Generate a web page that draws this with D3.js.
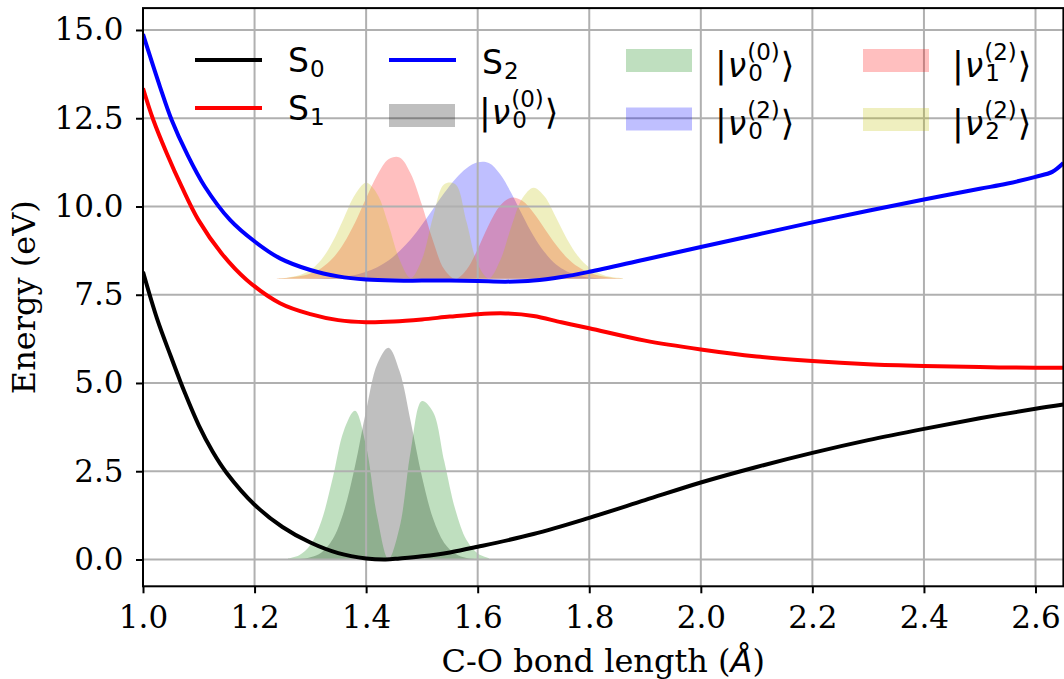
<!DOCTYPE html>
<html>
<head>
<meta charset="utf-8">
<script src="https://cdn.jsdelivr.net/npm/d3@7"></script>
<style>
  body { margin: 0; background: #fff; }
  svg { display: block; }
</style>
</head>
<body>
<svg id="chart" width="1064" height="679"></svg>
<script>
// potential energy curves (bond length in Å, energy in eV)
const s0X = [1.0, 1.025, 1.05, 1.075, 1.1, 1.125, 1.15, 1.2, 1.25, 1.3, 1.35, 1.4, 1.435, 1.46, 1.5, 1.55, 1.6, 1.7, 1.8, 1.9, 2.0, 2.1, 2.2, 2.3, 2.4, 2.5, 2.6, 2.65];
const s0E = [8.15, 6.83, 5.75, 4.72, 3.8, 3.05, 2.45, 1.55, 0.92, 0.48, 0.18, 0.03, 0.0, 0.03, 0.09, 0.2, 0.36, 0.72, 1.18, 1.68, 2.18, 2.62, 3.02, 3.38, 3.7, 4.0, 4.27, 4.39];

const s1X = [1.0, 1.0185, 1.0425, 1.0694, 1.0992, 1.141, 1.186, 1.2456, 1.3, 1.35, 1.4, 1.45, 1.5, 1.55, 1.6, 1.65, 1.7, 1.75, 1.8, 1.9, 2.0, 2.1, 2.2, 2.3, 2.4, 2.5, 2.6, 2.65];
const s1E = [13.35, 12.45, 11.51, 10.56, 9.62, 8.67, 7.92, 7.26, 6.95, 6.78, 6.72, 6.74, 6.8, 6.88, 6.95, 6.97, 6.9, 6.72, 6.55, 6.2, 5.95, 5.75, 5.62, 5.53, 5.48, 5.45, 5.43, 5.43];

const s2X = [1.0, 1.0305, 1.0514, 1.0783, 1.111, 1.156, 1.2008, 1.2456, 1.3, 1.35, 1.4, 1.45, 1.5, 1.55, 1.6, 1.65, 1.7, 1.75, 1.8, 1.9, 2.0, 2.1, 2.2, 2.3, 2.4, 2.5, 2.55, 2.6, 2.63, 2.65];
const s2E = [14.88, 13.39, 12.45, 11.51, 10.56, 9.62, 9.0, 8.53, 8.2, 8.02, 7.93, 7.9, 7.9, 7.9, 7.89, 7.87, 7.9, 8.0, 8.15, 8.5, 8.85, 9.2, 9.55, 9.88, 10.2, 10.5, 10.65, 10.84, 10.98, 11.23];

// vibrational densities on S0 (baseline 0 eV)
const lowX = [1.26, 1.28, 1.30, 1.32, 1.34, 1.36, 1.38, 1.40, 1.42, 1.44, 1.46, 1.48, 1.50, 1.52, 1.54, 1.56, 1.58, 1.60, 1.62];
const lowBase = 0;
const nuGrayLow = [0.00, 0.01, 0.06, 0.20, 0.57, 1.36, 2.64, 4.22, 5.54, 6.00, 5.33, 3.90, 2.35, 1.16, 0.47, 0.16, 0.04, 0.01, 0.00];
const nuGreenLow = [0.03, 0.12, 0.41, 1.10, 2.30, 3.65, 4.21, 3.21, 1.20, 0.01, 0.91, 3.08, 4.49, 4.18, 2.79, 1.41, 0.55, 0.17, 0.04];

// vibrational densities on S2 (baseline ~7.95 eV)
const upX = [1.24, 1.26, 1.28, 1.30, 1.32, 1.34, 1.36, 1.38, 1.40, 1.42, 1.44, 1.46, 1.48, 1.50, 1.52, 1.54, 1.56, 1.58, 1.60, 1.62, 1.64, 1.66, 1.68, 1.70, 1.72, 1.74, 1.76, 1.78, 1.80, 1.82, 1.84, 1.86];
const upBase = 7.95;
const nuBlueUp = [0.00, 0.00, 0.00, 0.01, 0.02, 0.03, 0.06, 0.11, 0.20, 0.33, 0.52, 0.79, 1.12, 1.53, 1.98, 2.43, 2.83, 3.13, 3.30, 3.28, 2.97, 2.44, 1.81, 1.22, 0.75, 0.41, 0.21, 0.09, 0.04, 0.01, 0.00, 0.00];
const nuRedUp = [0.01, 0.03, 0.07, 0.15, 0.31, 0.58, 1.01, 1.59, 2.28, 2.94, 3.39, 3.44, 2.98, 2.10, 1.07, 0.27, 0.00, 0.26, 0.84, 1.53, 2.07, 2.30, 2.21, 1.87, 1.42, 0.97, 0.60, 0.34, 0.18, 0.08, 0.03, 0.01];
const nuYellowUp = [0.01, 0.04, 0.10, 0.25, 0.55, 1.05, 1.72, 2.38, 2.72, 2.40, 1.54, 0.54, 0.02, 0.55, 1.75, 2.68, 2.68, 1.62, 0.42, 0.01, 0.51, 1.46, 2.28, 2.58, 2.33, 1.75, 1.13, 0.64, 0.32, 0.14, 0.05, 0.02];

const xTicks = [1.0, 1.2, 1.4, 1.6, 1.8, 2.0, 2.2, 2.4, 2.6];
const yTicks = [0.0, 2.5, 5.0, 7.5, 10.0, 12.5, 15.0];

// legend, column by column
const legendSub = ['0', '1', '2', '0', '0', '0', '1', '2'];
const legendSup = [null, null, null, '(0)', '(0)', '(2)', '(2)', '(2)'];
const legendKind = ['line', 'line', 'line', 'patch', 'patch', 'patch', 'patch', 'patch'];
const legendColor = ['#000000', '#ff0000', '#0000ff', '#000000', '#008000', '#0000ff', '#ff0000', '#bfbf00'];

const svg = d3.select('#chart');
const plotLeft = 143, plotRight = 1063.4, plotTop = 8.1, plotBottom = 586.3;

const x = d3.scaleLinear().domain([1.0, 2.65]).range([plotLeft, plotRight]);
const y = d3.scaleLinear().domain([-0.76, 15.62]).range([plotBottom, plotTop]);

svg.append('defs').append('clipPath').attr('id', 'plot-clip')
  .append('rect').attr('x', plotLeft).attr('y', plotTop)
  .attr('width', plotRight - plotLeft).attr('height', plotBottom - plotTop);

const plot = svg.append('g').attr('clip-path', 'url(#plot-clip)');

function drawDensity(xs, hs, base, color) {
  const pts = xs.map((v, i) => [v, hs[i]]);
  const area = d3.area()
    .x((d) => x(d[0]))
    .y0(y(base))
    .y1((d) => y(base + d[1]))
    .curve(d3.curveCatmullRom);
  plot.append('path').datum(pts)
    .attr('d', area)
    .attr('fill', color)
    .attr('fill-opacity', 0.25)
    .attr('stroke', 'none');
}

drawDensity(lowX, nuGrayLow, lowBase, '#000000');
drawDensity(lowX, nuGreenLow, lowBase, '#008000');
drawDensity(upX, nuBlueUp, upBase, '#0000ff');
drawDensity(upX, nuRedUp, upBase, '#ff0000');
drawDensity(upX, nuYellowUp, upBase, '#bfbf00');

// grid sits above the fills, below the curves
const grid = plot.append('g').attr('stroke', '#b0b0b0').attr('stroke-width', 2);
xTicks.forEach((t) => {
  grid.append('line').attr('x1', x(t)).attr('x2', x(t)).attr('y1', plotTop).attr('y2', plotBottom);
});
yTicks.forEach((t) => {
  grid.append('line').attr('x1', plotLeft).attr('x2', plotRight).attr('y1', y(t)).attr('y2', y(t));
});

function drawCurve(xs, es, color) {
  const line = d3.line()
    .x((d) => x(d[0]))
    .y((d) => y(d[1]))
    .curve(d3.curveCatmullRom);
  plot.append('path').datum(xs.map((v, i) => [v, es[i]]))
    .attr('d', line)
    .attr('fill', 'none')
    .attr('stroke', color)
    .attr('stroke-width', 4)
    .attr('stroke-linejoin', 'round');
}

drawCurve(s0X, s0E, '#000000');
drawCurve(s1X, s1E, '#ff0000');
drawCurve(s2X, s2E, '#0000ff');

// spines
svg.append('rect')
  .attr('x', plotLeft).attr('y', plotTop)
  .attr('width', plotRight - plotLeft).attr('height', plotBottom - plotTop)
  .attr('fill', 'none').attr('stroke', '#000').attr('stroke-width', 2);

// axes
const xAxis = svg.append('g')
  .attr('transform', `translate(0,${plotBottom})`)
  .call(d3.axisBottom(x).tickValues(xTicks).tickFormat(d3.format('.1f')).tickSize(7).tickPadding(12.5));
const yAxis = svg.append('g')
  .attr('transform', `translate(${plotLeft},0)`)
  .call(d3.axisLeft(y).tickValues(yTicks).tickFormat(d3.format('.1f')).tickSize(7).tickPadding(12.5));

[xAxis, yAxis].forEach((a) => {
  a.select('.domain').remove();
  a.selectAll('.tick line').attr('stroke', '#000').attr('stroke-width', 2);
  a.selectAll('.tick text')
    .attr('fill', '#000')
    .style('font-family', '"DejaVu Serif"')
    .style('font-size', '31px');
});

const xLabel = svg.append('text')
  .attr('x', (plotLeft + plotRight) / 2)
  .attr('y', 672)
  .attr('text-anchor', 'middle')
  .style('font-family', '"DejaVu Serif"')
  .style('font-size', '32px');
xLabel.append('tspan').text('C-O bond length (');
xLabel.append('tspan').style('font-family', '"DejaVu Sans"').style('font-style', 'italic').text('Å');
xLabel.append('tspan').text(')');

svg.append('text')
  .attr('transform', `translate(35,${(plotTop + plotBottom) / 2}) rotate(-90)`)
  .attr('text-anchor', 'middle')
  .style('font-family', '"DejaVu Serif"')
  .style('font-size', '32px')
  .text('Energy (eV)');

// legend (no frame)
const handleX = [195, 389, 626, 863];
const textX = [288, 482, 718, 955];
const handleY = [60, 108, 60, 115.5, 60.5, 119, 60.5, 119.5];
const baseY = [72, 119.5, 74, 124, 77, 135, 77, 135];
const fs = 33, scriptFs = 23, bracketFs = 35;

const legend = svg.append('g')
  .style('font-family', '"DejaVu Sans"')
  .attr('fill', '#000');

// width of a piece of label text, measured with a throwaway element
function measure(txt, size, italic) {
  const t = legend.append('text')
    .style('font-size', size + 'px')
    .style('font-style', italic ? 'italic' : 'normal')
    .text(txt);
  const w = t.node().getComputedTextLength();
  t.remove();
  return w;
}

legendSub.forEach((sub, i) => {
  const col = Math.floor(i / 2);
  const hx = handleX[col];
  const hy = handleY[i];
  if (legendKind[i] === 'line') {
    legend.append('line')
      .attr('x1', hx).attr('x2', hx + 67).attr('y1', hy).attr('y2', hy)
      .attr('stroke', legendColor[i]).attr('stroke-width', 4);
  } else {
    legend.append('rect')
      .attr('x', hx).attr('y', hy - 11.5).attr('width', 66).attr('height', 23)
      .attr('fill', legendColor[i]).attr('fill-opacity', 0.25);
  }

  const tx = textX[col];
  const by = baseY[i];
  const label = legend.append('text').attr('x', tx).attr('y', by).style('font-size', fs + 'px');
  if (legendSup[i] === null) {
    const w = measure('S', fs, false);
    label.append('tspan').text('S');
    label.append('tspan').attr('x', tx + w + 1).attr('y', by + 5)
      .style('font-size', scriptFs + 'px').text(sub);
  } else {
    const bx = tx - 3;
    const nx = bx + measure('|', bracketFs, false) + 1;
    const sx = nx + measure('ν', fs, true) + 1;
    const wSup = measure(legendSup[i], scriptFs, false);
    const wSub = measure(sub, scriptFs, false);
    const rx = sx + Math.max(wSup, wSub + 1) + 1;
    label.append('tspan').attr('x', bx).attr('y', by).style('font-size', bracketFs + 'px').text('|');
    label.append('tspan').attr('x', nx).attr('y', by).style('font-style', 'italic').text('ν');
    label.append('tspan').attr('x', sx).attr('y', by - 17).style('font-size', scriptFs + 'px').text(legendSup[i]);
    label.append('tspan').attr('x', sx + 1).attr('y', by + 4).style('font-size', scriptFs + 'px').text(sub);
    label.append('tspan').attr('x', rx).attr('y', by).style('font-size', bracketFs + 'px').text('⟩');
  }
});
</script>
</body>
</html>
